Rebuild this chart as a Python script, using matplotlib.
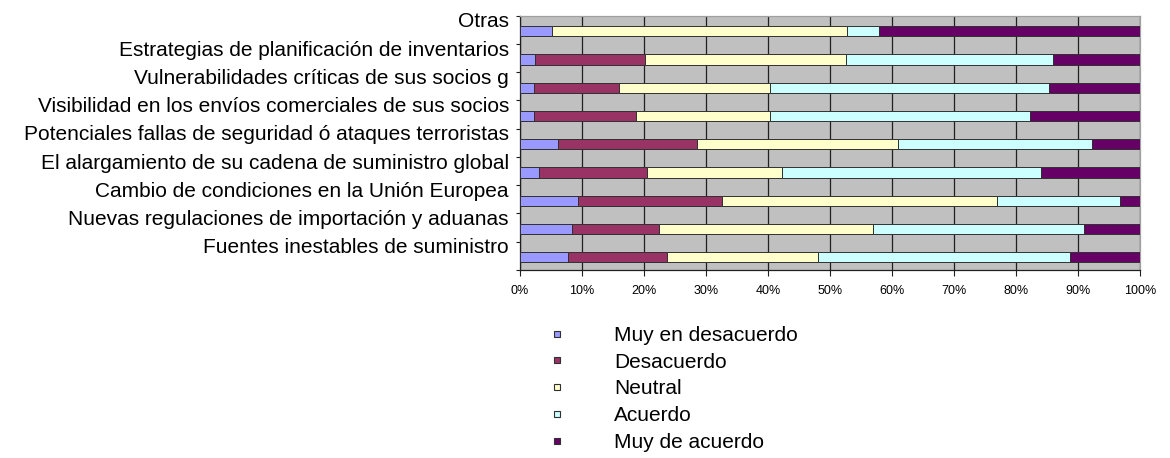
import numpy as np
import matplotlib
matplotlib.use("Agg")
import matplotlib.pyplot as plt
import matplotlib.transforms as mtransforms
from matplotlib.lines import Line2D

plt.rcParams['font.family'] = ['Liberation Sans', 'DejaVu Sans']

# categorias de abajo hacia arriba
categorias = [
    "Fuentes inestables de suministro",
    "Nuevas regulaciones de importación y aduanas",
    "Cambio de condiciones en la Unión Europea",
    "El alargamiento de su cadena de suministro global",
    "Potenciales fallas de seguridad ó ataques terroristas",
    "Visibilidad en los envíos comerciales de sus socios",
    "Vulnerabilidades críticas de sus socios g",
    "Estrategias de planificación de inventarios",
    "Otras",
]

# porcentajes por respuesta (mismo orden que categorias)
muy_desacuerdo = [7.7, 8.4, 9.4, 3.0, 6.1, 2.2, 2.2, 2.4, 5.1]
desacuerdo     = [16.0, 14.0, 23.2, 17.5, 22.5, 16.5, 13.8, 17.8, 0.0]
neutral        = [24.3, 34.5, 44.3, 21.8, 32.3, 21.7, 24.4, 32.3, 47.6]
acuerdo        = [40.7, 34.0, 19.8, 41.7, 31.4, 41.9, 45.0, 33.4, 5.2]
muy_acuerdo    = [11.3, 9.1, 3.3, 16.0, 7.7, 17.7, 14.6, 14.1, 42.1]

series = [muy_desacuerdo, desacuerdo, neutral, acuerdo, muy_acuerdo]
nombres = ["Muy en desacuerdo", "Desacuerdo", "Neutral", "Acuerdo", "Muy de acuerdo"]
colores = ["#9999FF", "#993366", "#FFFFCC", "#CCFFFF", "#660066"]

fig = plt.figure(figsize=(11.7, 4.58), dpi=100)
ax = fig.add_axes([520 / 1170, 1 - 270 / 458, 620 / 1170, 254.3 / 458])
ax.set_facecolor("#C0C0C0")

y = np.arange(len(categorias))
izq = np.zeros(len(categorias))
for vals, nombre, color in zip(series, nombres, colores):
    vals = np.array(vals)
    ax.barh(y - 0.05, vals, left=izq, height=0.36, color=color,
            edgecolor="#303030", linewidth=0.7, zorder=3, label=nombre)
    izq += vals

ax.set_xlim(0, 100)
ax.set_ylim(-0.5, len(categorias) - 0.5)

ax.set_xticks(np.arange(0, 101, 10))
ax.set_xticklabels([f"{v}%" for v in range(0, 101, 10)], fontsize=9)
ax.tick_params(axis="x", length=4, width=0.8, pad=7, color="#202020")
ax.xaxis.grid(True, color="#202020", linewidth=0.9, zorder=1)
ax.set_axisbelow(True)

# marcas entre categorias, etiquetas en el centro
ax.set_yticks(np.arange(-0.5, len(categorias), 1.0))
ax.set_yticklabels([])
ax.tick_params(axis="y", which="major", length=3, width=0.8, color="#202020")
ax.set_yticks(y, minor=True)
ax.set_yticklabels(categorias, minor=True, fontsize=15)
ax.tick_params(axis="y", which="minor", length=0, pad=8)
desplaza = mtransforms.ScaledTranslation(0, 2.5 / 100, fig.dpi_scale_trans)
for lbl in ax.get_yticklabels(minor=True):
    lbl.set_va("baseline")
    lbl.set_transform(lbl.get_transform() + desplaza)

for lado in ["left", "bottom"]:
    ax.spines[lado].set_color("#202020")
    ax.spines[lado].set_linewidth(0.9)
for lado in ["top", "right"]:
    ax.spines[lado].set_color("#A0A0A0")
    ax.spines[lado].set_linewidth(0.9)

handles = [Line2D([], [], marker="s", ls="none", markersize=5, markerfacecolor=c,
                  markeredgecolor="#303030", markeredgewidth=0.8) for c in colores]
fig.legend(handles, nombres, loc="upper left", bbox_to_anchor=(536 / 1170, 1 - 326 / 458),
           frameon=False, fontsize=15, borderpad=0, borderaxespad=0,
           labelspacing=0.37, handlelength=2, handletextpad=1.76)

fig.savefig("out.png", dpi=100)
